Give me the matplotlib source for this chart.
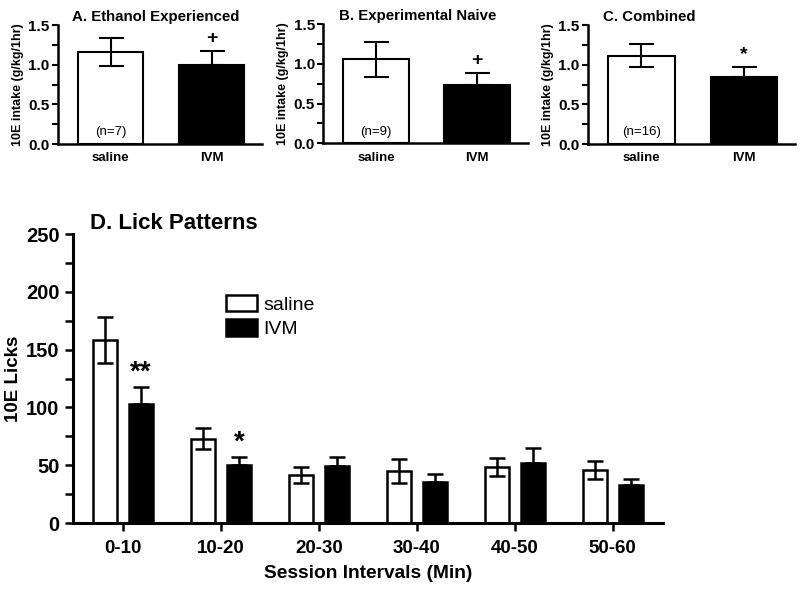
import matplotlib.pyplot as plt
import numpy as np
from matplotlib.ticker import MultipleLocator

plt.rcParams["font.family"] = ["Liberation Sans", "DejaVu Sans"]
plt.rcParams["font.weight"] = "bold"

# Panels A-C: 10E intake (g/kg/1hr)
groups = ["saline", "IVM"]
panel_titles = ["A. Ethanol Experienced", "B. Experimental Naive", "C. Combined"]
intake_mean = [[1.16, 1.00], [1.06, 0.73], [1.11, 0.85]]
intake_sem = [[0.18, 0.17], [0.22, 0.16], [0.145, 0.12]]
n_labels = ["(n=7)", "(n=9)", "(n=16)"]
sig_marks = ["+", "+", "*"]

# Panel D: lick patterns
intervals = ["0-10", "10-20", "20-30", "30-40", "40-50", "50-60"]
licks_saline = [158, 73, 41.5, 45, 48.5, 46]
sem_saline = [20, 9, 7, 10, 7.5, 7.5]
licks_ivm = [103, 50, 49.5, 35.5, 52, 33]
sem_ivm = [15, 7.5, 7.5, 7, 12.5, 5.5]
licks_marks = ["**", "*", "", "", "", ""]

fig = plt.figure(figsize=(8, 5.89), dpi=100)

top_pos = [[0.0725, 0.7555, 0.255, 0.202],
           [0.404, 0.7567, 0.256, 0.202],
           [0.735, 0.7555, 0.259, 0.202]]
title_x = [0.48, 0.46, 0.07]
title_ha = ["center", "center", "left"]

def style_axes(ax, lw=1.8):
    for s in ["top", "right"]:
        ax.spines[s].set_visible(False)
    for s in ["left", "bottom"]:
        ax.spines[s].set_linewidth(lw)

for i in range(3):
    ax = fig.add_axes(top_pos[i])
    x = np.arange(len(groups))
    ax.bar(x, intake_mean[i], width=0.65, color=["white", "black"],
           edgecolor="black", linewidth=1.5, zorder=2)
    ax.errorbar(x[0], intake_mean[i][0], yerr=intake_sem[i][0], fmt="none",
                ecolor="black", elinewidth=1.5, capsize=9, capthick=1.5, zorder=3)
    ax.errorbar(x[1], intake_mean[i][1], yerr=[[0], [intake_sem[i][1]]], fmt="none",
                ecolor="black", elinewidth=1.5, capsize=9, capthick=1.5, zorder=3)
    ax.text(x[1], intake_mean[i][1] + intake_sem[i][1] + 0.05, sig_marks[i],
            ha="center", va="bottom", fontsize=14, fontweight="bold")
    ax.text(x[0], 0.07, n_labels[i], ha="center", va="bottom", fontsize=9.5,
            fontweight="normal")
    ax.set_xlim(-0.52, 1.5)
    ax.set_ylim(0, 1.5)
    ax.yaxis.set_major_locator(MultipleLocator(0.5))
    ax.yaxis.set_minor_locator(MultipleLocator(0.25))
    ax.set_xticks(x)
    ax.set_xticklabels(groups, fontsize=9.5, fontweight="bold")
    ax.tick_params(axis="x", length=0, pad=6)
    ax.tick_params(axis="y", which="major", length=4, width=1.5, labelsize=11, pad=2)
    ax.tick_params(axis="y", which="minor", length=4, width=1.5)
    for t in ax.get_yticklabels():
        t.set_fontweight("bold")
    ax.yaxis.set_major_formatter(plt.FormatStrFormatter("%.1f"))
    ax.set_ylabel("10E intake (g/kg/1hr)", fontsize=9, fontweight="bold", labelpad=3)
    ax.text(title_x[i], 1.01, panel_titles[i], transform=ax.transAxes,
            ha=title_ha[i], va="bottom", fontsize=10.8, fontweight="bold")
    style_axes(ax)

# Panel D
ax = fig.add_axes([0.091, 0.112, 0.7375, 0.4907])
xd = np.arange(len(intervals))
off = 0.185
w = 0.245
ax.bar(xd - off, licks_saline, width=w, color="white", edgecolor="black",
       linewidth=1.8, zorder=2, label="saline")
ax.bar(xd + off, licks_ivm, width=w, color="black", edgecolor="black",
       linewidth=1.8, zorder=2, label="IVM")
ax.errorbar(xd - off, licks_saline, yerr=sem_saline, fmt="none", ecolor="black",
            elinewidth=1.8, capsize=6, capthick=1.8, zorder=3)
ax.errorbar(xd + off, licks_ivm, yerr=[np.zeros(len(sem_ivm)), sem_ivm], fmt="none",
            ecolor="black", elinewidth=1.8, capsize=6, capthick=1.8, zorder=3)
for j, m in enumerate(licks_marks):
    if m:
        ax.text(xd[j] + off, licks_ivm[j] + sem_ivm[j] + 1, m, ha="center",
                va="bottom", fontsize=20, fontweight="bold")
ax.set_xlim(-0.51, 5.51)
ax.set_ylim(0, 250)
ax.yaxis.set_major_locator(MultipleLocator(50))
ax.yaxis.set_minor_locator(MultipleLocator(25))
ax.set_xticks(xd)
ax.set_xticklabels(intervals, fontsize=13.5, fontweight="bold")
for t in ax.get_yticklabels():
    t.set_fontweight("bold")
ax.tick_params(axis="x", length=6, width=1.8, pad=6)
ax.tick_params(axis="y", which="major", length=6, width=1.8, labelsize=14.5)
ax.tick_params(axis="y", which="minor", length=6, width=1.8)
ax.set_ylabel("10E Licks", fontsize=13.5, fontweight="bold", labelpad=3)
ax.set_xlabel("Session Intervals (Min)", fontsize=13.8, fontweight="bold", labelpad=6)
ax.text(0.03, 1.0, "D. Lick Patterns", transform=ax.transAxes, ha="left",
        va="bottom", fontsize=16, fontweight="bold")
leg = ax.legend(loc="upper left", bbox_to_anchor=(0.23, 0.85), frameon=False,
                fontsize=14, handlelength=1.6, handleheight=0.9,
                handletextpad=0.3, labelspacing=0.3)
for t in leg.get_texts():
    t.set_fontweight("normal")
style_axes(ax, lw=2.2)

plt.savefig("out.png", dpi=100)
